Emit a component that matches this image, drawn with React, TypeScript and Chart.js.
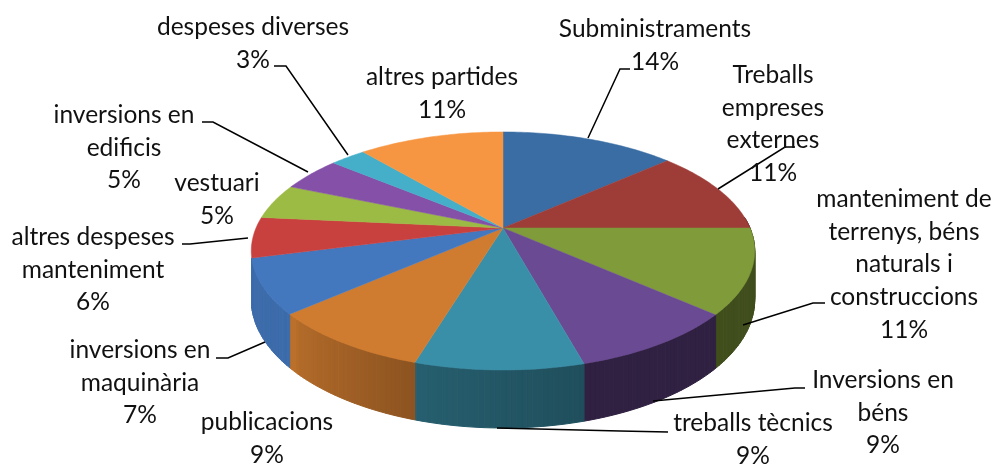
import React, { useEffect, useRef } from "react";
import { Chart, registerables } from "chart.js";

Chart.register(...registerables);

const categories = [
  "Subministraments", "Treballs empreses externes", "manteniment de terrenys, béns naturals i construccions",
  "Inversions en béns", "treballs tècnics", "publicacions", "inversions en maquinària",
  "altres despeses manteniment", "vestuari", "inversions en edificis", "despeses diverses", "altres partides",
];
const values = [13.5, 11.5, 11.5, 9.2, 9, 8.9, 7.4, 5.5, 4.8, 4.7, 2.75, 11.25];
const percentLabels = ["14%", "11%", "11%", "9%", "9%", "9%", "7%", "6%", "5%", "5%", "3%", "11%"];
const topColors = [
  "#396DA3", "#9E3D38", "#7F9B3A", "#6A4A93", "#3A8FA8", "#D07C30",
  "#4478BE", "#C9413F", "#9CBB45", "#8450A8", "#45AFC9", "#F79642",
];

const labelLines: string[][] = [
  ["Subministraments"], ["Treballs", "empreses", "externes"], ["manteniment de", "terrenys, béns", "naturals i", "construccions"],
  ["Inversions en", "béns"], ["treballs tècnics"], ["publicacions"], ["inversions en", "maquinària"],
  ["altres despeses", "manteniment"], ["vestuari"], ["inversions en", "edificis"], ["despeses diverses"], ["altres partides"],
];

// label layout: centre x, first baseline y
const labelAnchors: [number, number][] = [
  [655, 37], [773, 83], [904, 207], [883, 388], [753, 431], [267, 430],
  [140, 358], [93, 245], [217, 191], [124, 123], [253, 35], [442, 85],
];
const lineHeight = 32.7;
const leaders: [number, number][][] = [
  [[588, 138], [620, 69], [630, 69]],
  [[718, 189], [785, 147], [795, 147]],
  [[743, 325], [813, 303], [825, 303]],
  [[653, 401], [795, 388], [805, 388]],
  [[497, 428], [620, 431], [668, 432]],
  [],
  [[265, 342], [228, 358], [216, 358]],
  [[248, 238], [190, 244], [182, 244]],
  [],
  [[308, 172], [213, 122], [202, 122]],
  [[348, 155], [286, 66], [274, 66]],
  [],
];

// perspective of the tilted disc
const CX = 503, CY = 228, A = 247, B = 114.6, K = 0.193, DEPTH = 46.8;
const project = (ang: number, down: boolean): [number, number] => {
  const u = Math.cos(ang), v = Math.sin(ang), w = 1 - K * v;
  return [CX + (A * u) / w, CY + (B * v + (down ? DEPTH : 0)) / w];
};

// wall shade by angle (chart radians, 0 = right, PI/2 = front, PI = left)
const shadeStops: [number, number][] = [
  [-0.2, 0.5], [0.71, 0.5], [0.73, 0.45], [1.29, 0.45], [1.31, 0.55], [1.86, 0.66],
  [1.88, 0.68], [2.37, 0.86], [2.39, 0.9], [3.2, 0.9],
];
const shadeAt = (a: number) => {
  for (let i = 1; i < shadeStops.length; i++) {
    const [a0, s0] = shadeStops[i - 1], [a1, s1] = shadeStops[i];
    if (a <= a1) return s0 + ((s1 - s0) * (a - a0)) / (a1 - a0);
  }
  return 0.9;
};
const shaded = (hex: string, s: number) => {
  const n = parseInt(hex.slice(1), 16);
  return `rgb(${Math.round(((n >> 16) & 255) * s)},${Math.round(((n >> 8) & 255) * s)},${Math.round((n & 255) * s)})`;
};

const pie3d = {
  id: "pie3d",
  beforeDatasetDraw(chart: any, args: any) {
    const ctx: CanvasRenderingContext2D = chart.ctx;
    const arcs: any[] = args.meta.data;
    ctx.save();
    ctx.lineJoin = "round";
    const step = Math.PI / 180;
    // walls: only the part that faces the viewer, one narrow band per degree
    arcs.forEach((arc: any) => {
      const col = arc.options.backgroundColor;
      for (let a = arc.startAngle; a < arc.endAngle - 1e-6; a += step) {
        const b = Math.min(a + step, arc.endAngle);
        const mid = (a + b) / 2;
        const norm = Math.atan2(Math.sin(mid), Math.cos(mid));
        if (norm < -0.1 || norm > 2.885) continue;
        const fill = shaded(col, shadeAt(norm));
        const p = [project(a, false), project(b, false), project(b, true), project(a, true)];
        ctx.beginPath();
        p.forEach(([x, y], i) => (i ? ctx.lineTo(x, y) : ctx.moveTo(x, y)));
        ctx.closePath();
        ctx.fillStyle = fill;
        ctx.strokeStyle = fill;
        ctx.lineWidth = 1;
        ctx.fill();
        ctx.stroke();
      }
    });
    // top face
    ctx.filter = "blur(0.5px)";
    arcs.forEach((arc: any) => {
      const col = arc.options.backgroundColor;
      ctx.beginPath();
      ctx.moveTo(CX, CY);
      for (let a = arc.startAngle; a < arc.endAngle; a += step) {
        const [x, y] = project(a, false);
        ctx.lineTo(x, y);
      }
      const [ex, ey] = project(arc.endAngle, false);
      ctx.lineTo(ex, ey);
      ctx.closePath();
      ctx.fillStyle = col;
      ctx.strokeStyle = col;
      ctx.lineWidth = 0.5;
      ctx.fill();
      ctx.stroke();
    });
    ctx.restore();
    return false;
  },
  afterDraw(chart: any) {
    const ctx: CanvasRenderingContext2D = chart.ctx;
    ctx.save();
    ctx.strokeStyle = "#000";
    ctx.lineWidth = 1.5;
    leaders.forEach((pts) => {
      if (!pts.length) return;
      ctx.beginPath();
      pts.forEach(([x, y], i) => (i ? ctx.lineTo(x, y) : ctx.moveTo(x, y)));
      ctx.stroke();
    });
    ctx.fillStyle = "#111";
    ctx.font = "24.5px Lato";
    ctx.textAlign = "center";
    ctx.textBaseline = "alphabetic";
    categories.forEach((_, i) => {
      const [x, y] = labelAnchors[i];
      const lines = [...labelLines[i], percentLabels[i]];
      lines.forEach((t, j) => ctx.fillText(t, x, y + j * lineHeight));
    });
    ctx.restore();
  },
};

export default function App() {
  const ref = useRef<HTMLCanvasElement>(null);
  useEffect(() => {
    document.body.style.margin = "0";
    const chart = new Chart(ref.current!, {
      type: "pie",
      data: { labels: categories, datasets: [{ data: values, backgroundColor: topColors, borderWidth: 0 }] },
      options: {
        responsive: false,
        animation: false,
        plugins: { legend: { display: false }, tooltip: { enabled: false } },
      },
      plugins: [pie3d],
    } as any);
    return () => chart.destroy();
  }, []);
  return <canvas ref={ref} width={1000} height={466} style={{ display: "block" }} />;
}
